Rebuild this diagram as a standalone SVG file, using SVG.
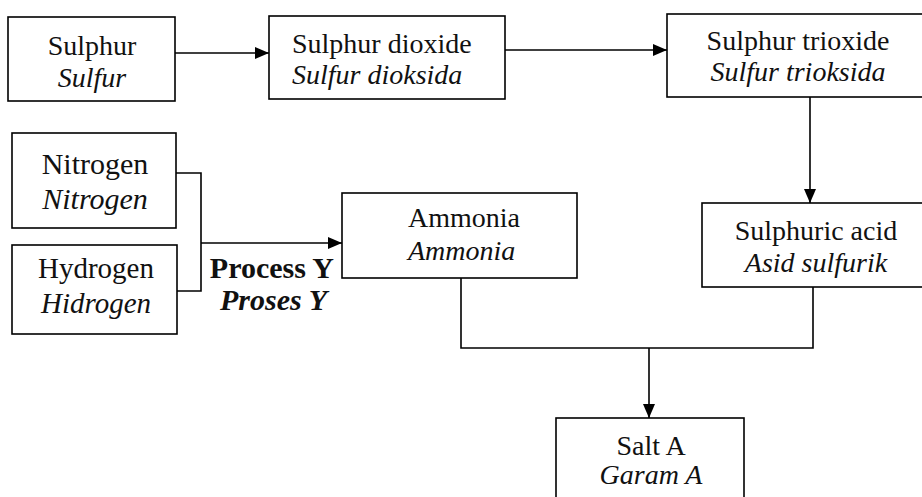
<svg xmlns="http://www.w3.org/2000/svg" width="922" height="497" viewBox="0 0 922 497">
<defs>
<marker id="arr" markerWidth="14" markerHeight="12" refX="14" refY="6" orient="auto" markerUnits="userSpaceOnUse">
<path d="M0,0 L14,6 L0,12 Z" fill="#000"/>
</marker>
<style>
.box{fill:#fff;stroke:#000;stroke-width:1.6}
.t{font-family:"Liberation Serif","Times New Roman",serif;font-size:28px;fill:#111}
.i{font-style:italic}
.b{font-weight:bold;font-size:30px}
.c{text-anchor:middle}
.e{text-anchor:end}
.ln{fill:none;stroke:#000;stroke-width:1.6}
</style>
</defs>
<rect width="922" height="497" fill="#fff"/>
<g id="connectors">
<line class="ln" x1="175" y1="53" x2="269" y2="53" marker-end="url(#arr)"/>
<line class="ln" x1="505" y1="50" x2="667" y2="50" marker-end="url(#arr)"/>
<line class="ln" x1="810" y1="97" x2="810" y2="203" marker-end="url(#arr)"/>
<polyline class="ln" points="176,173 201,173 201,291 177,291"/>
<line class="ln" x1="201" y1="243" x2="342" y2="243" marker-end="url(#arr)"/>
<polyline class="ln" points="461,278 461,348 813,348 813,287"/>
<line class="ln" x1="649" y1="348" x2="649" y2="418" marker-end="url(#arr)"/>
<text class="t b e" x="334" y="278">Process Y</text>
<text class="t b i e" x="327" y="310">Proses Y</text>
</g>
<g id="sulphur">
<rect class="box" x="8" y="17" width="167" height="84"/>
<text class="t c" x="92" y="55">Sulphur</text>
<text class="t i c" x="92" y="87">Sulfur</text>
</g>
<g id="sulphur-dioxide">
<rect class="box" x="269" y="16" width="236" height="83"/>
<text class="t" x="292" y="53">Sulphur dioxide</text>
<text class="t i" x="292" y="84">Sulfur dioksida</text>
</g>
<g id="sulphur-trioxide">
<rect class="box" x="667" y="14" width="260" height="83"/>
<text class="t c" x="798" y="50">Sulphur trioxide</text>
<text class="t i c" x="798" y="81">Sulfur trioksida</text>
</g>
<g id="sulphuric-acid">
<rect class="box" x="702" y="203" width="225" height="84"/>
<text class="t c" x="816" y="240">Sulphuric acid</text>
<text class="t i c" x="816" y="272">Asid sulfurik</text>
</g>
<g id="nitrogen">
<rect class="box" x="12" y="133" width="164" height="95"/>
<text class="t c" x="95" y="174" style="font-size:30px">Nitrogen</text>
<text class="t i c" x="95" y="209" style="font-size:30px">Nitrogen</text>
</g>
<g id="hydrogen">
<rect class="box" x="12" y="245" width="165" height="89"/>
<text class="t c" x="96" y="278" style="font-size:29px">Hydrogen</text>
<text class="t i c" x="96" y="313" style="font-size:29px">Hidrogen</text>
</g>
<g id="ammonia">
<rect class="box" x="342" y="193" width="235" height="85"/>
<text class="t" x="408" y="227">Ammonia</text>
<text class="t i" x="408" y="260">Ammonia</text>
</g>
<g id="salt-a">
<rect class="box" x="556" y="418" width="188" height="90"/>
<text class="t c" x="651" y="455">Salt A</text>
<text class="t i c" x="651" y="484">Garam A</text>
</g>
</svg>
